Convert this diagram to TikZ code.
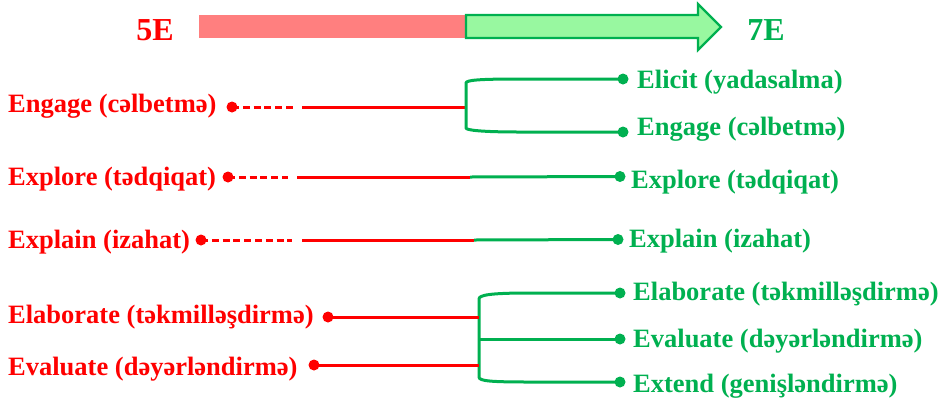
\documentclass[tikz,border=0pt]{standalone}
\usepackage{fontspec}
\setmainfont{Liberation Serif}
\definecolor{myred}{RGB}{255,0,0}
\definecolor{mygreen}{RGB}{0,176,80}
\definecolor{pinkfill}{RGB}{255,127,127}
\definecolor{lgreen}{RGB}{152,248,160}
\tikzset{
  lbl/.style={anchor=base west,inner sep=0pt,font=\fontsize{26.5}{30}\selectfont\bfseries},
  redlbl/.style={lbl,text=myred},
  greenlbl/.style={lbl,text=mygreen},
  big/.style={anchor=base,inner sep=0pt,font=\fontsize{32}{36}\selectfont\bfseries},
  rdot/.style={circle,fill=myred,inner sep=0pt,minimum size=11pt},
  gdot/.style={circle,fill=mygreen,inner sep=0pt,minimum size=11pt},
  rline/.style={draw=myred,line width=3pt},
  rdash/.style={draw=myred,line width=3pt,dash pattern=on 7pt off 3.8pt},
  gline/.style={draw=mygreen,line width=3pt},
}
\begin{document}
\begin{tikzpicture}[x=1pt,y=-1pt]
\useasboundingbox (0,0) rectangle (944,400);
% top arrow
\node[big,text=myred] (e5) at (155,40) {5E};
\node[big,text=mygreen] (e7) at (766,40) {7E};
\fill[pinkfill] (199,15) rectangle (466,38);
\draw[mygreen,line width=2.2pt,fill=lgreen,line join=miter]
  (466,15) -- (698,15) -- (698,4) -- (721,27) -- (698,50) -- (698,38) -- (466,38) -- cycle;

% left labels
\node[redlbl] (l1) at (8,112) {Engage (cəlbetmə)};
\node[redlbl] (l2) at (8,185) {Explore (tədqiqat)};
\node[redlbl] (l3) at (8,248) {Explain (izahat)};
\node[redlbl] (l4) at (8,323) {Elaborate (təkmilləşdirmə)};
\node[redlbl] (l5) at (8,375) {Evaluate (dəyərləndirmə)};

% right labels
\node[greenlbl] (r1) at (637,88) {Elicit (yadasalma)};
\node[greenlbl] (r2) at (637,135) {Engage (cəlbetmə)};
\node[greenlbl] (r3) at (631,188) {Explore (tədqiqat)};
\node[greenlbl] (r4) at (629,247) {Explain (izahat)};
\node[greenlbl] (r5) at (633,300) {Elaborate (təkmilləşdirmə)};
\node[greenlbl] (r6) at (633,347) {Evaluate (dəyərləndirmə)};
\node[greenlbl] (r7) at (633,392) {Extend (genişləndirmə)};

% red dots
\node[rdot] (d1) at (232,107) {};
\node[rdot] (d2) at (228,177) {};
\node[rdot] (d3) at (201,240) {};
\node[rdot] (d4) at (328,317) {};
\node[rdot] (d5) at (314,365) {};

% green dots
\node[gdot] (g1) at (623,79) {};
\node[gdot] (g2) at (623,132) {};
\node[gdot] (g3) at (620,176.5) {};
\node[gdot] (g4) at (618,239.5) {};
\node[gdot] (g5) at (620,293) {};
\node[gdot] (g6) at (620,339) {};
\node[gdot] (g7) at (620,382) {};

% coordinates
\coordinate (a1) at (293,107);
\coordinate (b1) at (302,107);
\coordinate (c1) at (466,107);
\coordinate (a2) at (288,177);
\coordinate (b2) at (297,177);
\coordinate (c2) at (470,177);
\coordinate (a3) at (292,240);
\coordinate (b3) at (302,240);
\coordinate (c3) at (474,240);
\coordinate (c4) at (479,317);
\coordinate (c5) at (479,365);
\coordinate (t1) at (466,83);
\coordinate (u1) at (466,128);
\coordinate (t2) at (479,299);
\coordinate (m2) at (479,339);
\coordinate (u2) at (479,377);

% row 1
\draw[rdash] (d1.center) -- (a1);
\draw[rline] (b1) -- (c1);
\draw[gline,line join=round] (g1.center) -- (520,79) .. controls (480,79) and (466,80) .. (t1) -- (u1) .. controls (466,130) and (480,132) .. (520,132) -- (g2.center);

% row 2
\draw[rdash] (d2.center) -- (a2);
\draw[rline] (b2) -- (c2);
\draw[gline] (c2) -- (g3.center);

% row 3
\draw[rdash] (d3.center) -- (a3);
\draw[rline] (b3) -- (c3);
\draw[gline] (c3) -- (g4.center);

% rows 4-5
\draw[gline,line join=round] (g5.center) -- (530,293) .. controls (490,293) and (479,295) .. (t2) -- (u2) .. controls (479,381) and (490,382) .. (530,382) -- (g7.center);
\draw[gline] (m2) -- (g6.center);
\draw[rline] (d4.center) -- (c4);
\draw[rline] (d5.center) -- (c5);
\end{tikzpicture}
\end{document}
